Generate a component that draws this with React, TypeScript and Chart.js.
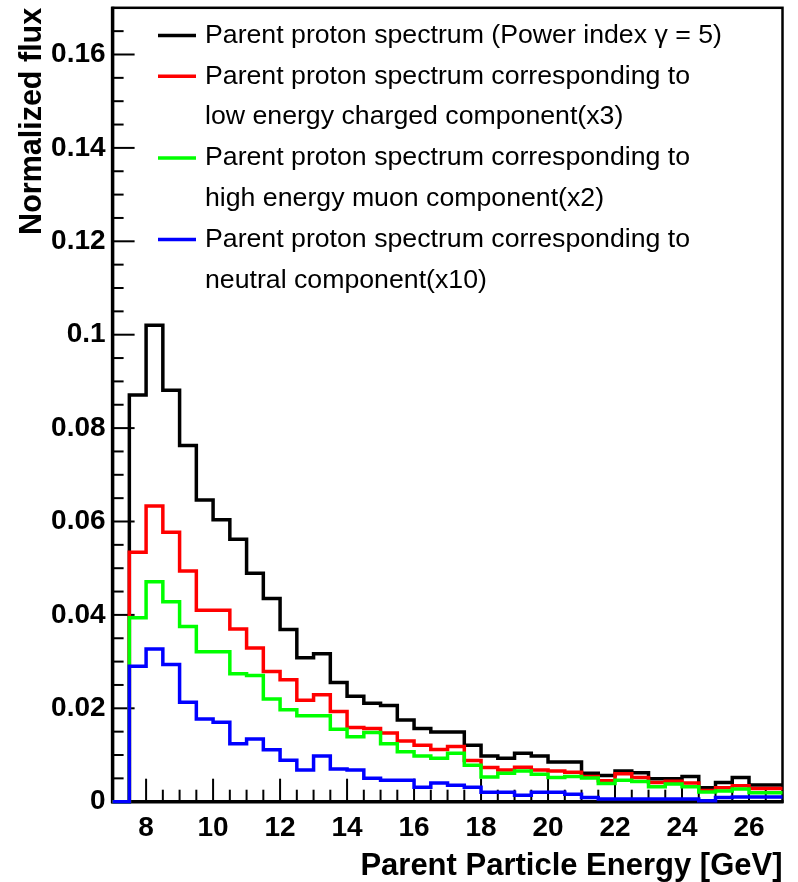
import React, { useEffect, useRef } from 'react';
import { Chart, registerables } from 'chart.js';

Chart.register(...registerables);

// ---------- data ----------
const binEdges = [
  7.5, 8, 8.5, 9, 9.5, 10, 10.5, 11, 11.5, 12, 12.5, 13, 13.5, 14, 14.5, 15, 15.5, 16, 16.5, 17,
  17.5, 18, 18.5, 19, 19.5, 20, 20.5, 21, 21.5, 22, 22.5, 23, 23.5, 24, 24.5, 25, 25.5, 26, 26.5, 27,
];

const totalSpectrum = [
  0.0871, 0.102, 0.0881, 0.0763, 0.0646, 0.0604, 0.0562, 0.0489, 0.0435, 0.0369, 0.0308, 0.0317,
  0.0255, 0.0226, 0.0211, 0.0206, 0.0175, 0.0157, 0.0149, 0.0149, 0.0121, 0.0098, 0.0093, 0.0104,
  0.0098, 0.0085, 0.0085, 0.0061, 0.0056, 0.0066, 0.0062, 0.0049, 0.0049, 0.0054, 0.003, 0.0041,
  0.0052, 0.0036, 0.0036,
];

const lowEnergyCharged = [
  0.0534, 0.0633, 0.0577, 0.0494, 0.041, 0.041, 0.037, 0.0329, 0.0279, 0.0261, 0.0217, 0.0229,
  0.0193, 0.0159, 0.0157, 0.0147, 0.013, 0.0121, 0.0112, 0.0118, 0.0088, 0.0073, 0.0068, 0.0074,
  0.0068, 0.0066, 0.0063, 0.0054, 0.0045, 0.006, 0.0052, 0.0041, 0.0044, 0.004, 0.0024, 0.003,
  0.0034, 0.0028, 0.0028,
];

const highEnergyMuon = [
  0.0394, 0.0471, 0.0428, 0.0375, 0.0321, 0.0321, 0.0274, 0.027, 0.022, 0.0197, 0.0184, 0.0184,
  0.0155, 0.0139, 0.0148, 0.0124, 0.0107, 0.0098, 0.0093, 0.0104, 0.0078, 0.0053, 0.0061, 0.0066,
  0.0059, 0.0052, 0.0054, 0.0051, 0.0039, 0.0046, 0.0043, 0.0032, 0.0038, 0.0032, 0.0021, 0.0023,
  0.0027, 0.0019, 0.0019,
];

const neutralComponent = [
  0.029, 0.0327, 0.0294, 0.0213, 0.0177, 0.017, 0.0124, 0.0134, 0.0111, 0.0089, 0.0068, 0.0098,
  0.007, 0.0068, 0.005, 0.0046, 0.0046, 0.0031, 0.004, 0.0035, 0.0031, 0.002, 0.002, 0.0014,
  0.002, 0.002, 0.0016, 0.0009, 0.0006, 0.0006, 0.0006, 0.0006, 0.0006, 0.0006, 0.0002, 0.0009,
  0.001, 0.001, 0.001,
];

const seriesNames = [
  'Parent proton spectrum (Power index \u03B3 = 5)',
  'Parent proton spectrum corresponding to low energy charged component(x3)',
  'Parent proton spectrum corresponding to high energy muon component(x2)',
  'Parent proton spectrum corresponding to neutral component(x10)',
];

const legendLines = [
  ['Parent proton spectrum (Power index \u03B3 = 5)'],
  ['Parent proton spectrum corresponding to', 'low energy charged component(x3)'],
  ['Parent proton spectrum corresponding to', 'high energy muon component(x2)'],
  ['Parent proton spectrum corresponding to', 'neutral component(x10)'],
];

const seriesColors = ['#000000', '#ff0000', '#00ff00', '#0000ff'];

const xTickValues = [8, 10, 12, 14, 16, 18, 20, 22, 24, 26];
const xTickLabels = ['8', '10', '12', '14', '16', '18', '20', '22', '24', '26'];
const yTickValues = [0, 0.02, 0.04, 0.06, 0.08, 0.1, 0.12, 0.14, 0.16];
const yTickLabels = ['0', '0.02', '0.04', '0.06', '0.08', '0.1', '0.12', '0.14', '0.16'];

const X_MIN = 7;
const X_MAX = 27;
const Y_MIN = 0;
const Y_MAX = 0.17;

const FONT = '"Liberation Sans", Arial, Helvetica, sans-serif';

function histPoints(values: number[]) {
  const pts: { x: number; y: number }[] = [
    { x: X_MIN, y: 0 },
    { x: binEdges[0], y: 0 },
  ];
  values.forEach((v, i) => {
    pts.push({ x: binEdges[i], y: v });
    pts.push({ x: binEdges[i + 1], y: v });
  });
  return pts;
}

const frameAndTicks = {
  id: 'frameAndTicks',
  beforeDatasetsDraw(chart: any) {
    const { ctx, chartArea: a, scales } = chart;
    const xs = scales.x;
    const ys = scales.y;
    ctx.save();
    ctx.strokeStyle = '#000';
    ctx.lineCap = 'butt';
    const line = (x1: number, y1: number, x2: number, y2: number) => {
      ctx.beginPath();
      ctx.moveTo(x1, y1);
      ctx.lineTo(x2, y2);
      ctx.stroke();
    };
    ctx.lineWidth = 2.5;
    ctx.strokeRect(a.left, a.top, a.right - a.left, a.bottom - a.top);
    ctx.lineWidth = 3.5;
    line(a.left, a.top - 1, a.left, a.bottom + 1.5);
    line(a.left - 1.5, a.bottom, a.right + 1, a.bottom);
    ctx.lineWidth = 2;
    for (let k = 0; X_MIN + k * 0.5 <= X_MAX + 1e-9; k++) {
      const v = X_MIN + k * 0.5;
      const major = xTickValues.some((t) => Math.abs(t - v) < 1e-6);
      const px = xs.getPixelForValue(v);
      if (px <= a.left + 1 || px >= a.right - 1) continue;
      line(px, a.bottom, px, a.bottom - (major ? 23 : 12));
    }
    for (let k = 0; Y_MIN + k * 0.005 <= Y_MAX + 1e-9; k++) {
      const v = Y_MIN + k * 0.005;
      const major = yTickValues.some((t) => Math.abs(t - v) < 1e-6);
      const py = ys.getPixelForValue(v);
      if (py >= a.bottom - 1 || py <= a.top + 1) continue;
      line(a.left, py, a.left + (major ? 22 : 11), py);
    }
    ctx.restore();
  },
};

const legendPlugin = {
  id: 'customLegend',
  afterDraw(chart: any) {
    const { ctx } = chart;
    ctx.save();
    ctx.font = `26.7px ${FONT}`;
    ctx.fillStyle = '#000';
    ctx.textBaseline = 'middle';
    ctx.textAlign = 'left';
    const lineX1 = 158;
    const lineX2 = 196;
    const textX = 205;
    const rowH = 40.8;
    let y = 35.5;
    legendLines.forEach((lines, i) => {
      ctx.strokeStyle = seriesColors[i];
      ctx.lineWidth = 3.5;
      ctx.beginPath();
      ctx.moveTo(lineX1, y);
      ctx.lineTo(lineX2, y);
      ctx.stroke();
      lines.forEach((t) => {
        ctx.fillText(t, textX, y);
        y += rowH;
      });
    });
    ctx.restore();
  },
};

export default function App() {
  const canvasRef = useRef<HTMLCanvasElement | null>(null);

  useEffect(() => {
    document.body.style.margin = '0';
    const canvas = canvasRef.current;
    if (!canvas) return;
    const allSeries = [totalSpectrum, lowEnergyCharged, highEnergyMuon, neutralComponent];
    const chart = new Chart(canvas, {
      type: 'line',
      data: {
        datasets: allSeries.map((vals, i) => ({
          label: seriesNames[i],
          data: histPoints(vals),
          borderColor: seriesColors[i],
          backgroundColor: seriesColors[i],
          borderWidth: 3.5,
          pointRadius: 0,
          pointHoverRadius: 0,
          tension: 0,
          fill: false,
          borderJoinStyle: 'miter',
          borderCapStyle: 'butt',
          order: 4 - i,
          clip: 4,
        })),
      },
      options: {
        animation: false,
        responsive: false,
        devicePixelRatio: 1,
        events: [],
        layout: { padding: { left: 0, top: 7.8, right: 15.5, bottom: 0 } },
        plugins: {
          legend: { display: false },
          tooltip: { enabled: false },
        },
        scales: {
          x: {
            type: 'linear',
            min: X_MIN,
            max: X_MAX,
            grid: { display: false, drawTicks: false },
            border: { display: false },
            afterFit: (s: any) => {
              s.height = 80.3;
              s.paddingLeft = 0;
              s.paddingRight = 0;
            },
            afterBuildTicks: (s: any) => {
              s.ticks = xTickValues.map((v) => ({ value: v }));
            },
            ticks: {
              autoSkip: false,
              maxRotation: 0,
              padding: 10,
              color: '#000',
              font: { family: FONT, size: 28, weight: 'bold' },
              callback: (_v: any, idx: number) => xTickLabels[idx],
            },
            title: {
              display: true,
              text: 'Parent Particle Energy [GeV]',
              align: 'end',
              color: '#000',
              font: { family: FONT, size: 31, weight: 'bold', lineHeight: 1 },
              padding: { top: 0, bottom: 0 },
            },
          },
          y: {
            type: 'linear',
            min: Y_MIN,
            max: Y_MAX,
            grid: { display: false, drawTicks: false },
            border: { display: false },
            afterFit: (s: any) => {
              s.width = 112.6;
              s.paddingTop = 0;
              s.paddingBottom = 0;
            },
            afterBuildTicks: (s: any) => {
              s.ticks = yTickValues.map((v) => ({ value: v }));
            },
            ticks: {
              autoSkip: false,
              padding: 7,
              color: '#000',
              font: { family: FONT, size: 28, weight: 'bold' },
              callback: (_v: any, idx: number) => yTickLabels[idx],
            },
            title: {
              display: true,
              text: 'Normalized flux',
              align: 'end',
              color: '#000',
              font: { family: FONT, size: 30.5, weight: 'bold', lineHeight: 1 },
              padding: { top: 17, bottom: 0 },
            },
          },
        },
      },
      plugins: [frameAndTicks, legendPlugin],
    } as any);
    return () => chart.destroy();
  }, []);

  return (
    <div style={{ width: 798, height: 882, position: 'relative', background: '#fff' }}>
      <canvas ref={canvasRef} width={798} height={882} style={{ display: 'block' }} />
    </div>
  );
}
